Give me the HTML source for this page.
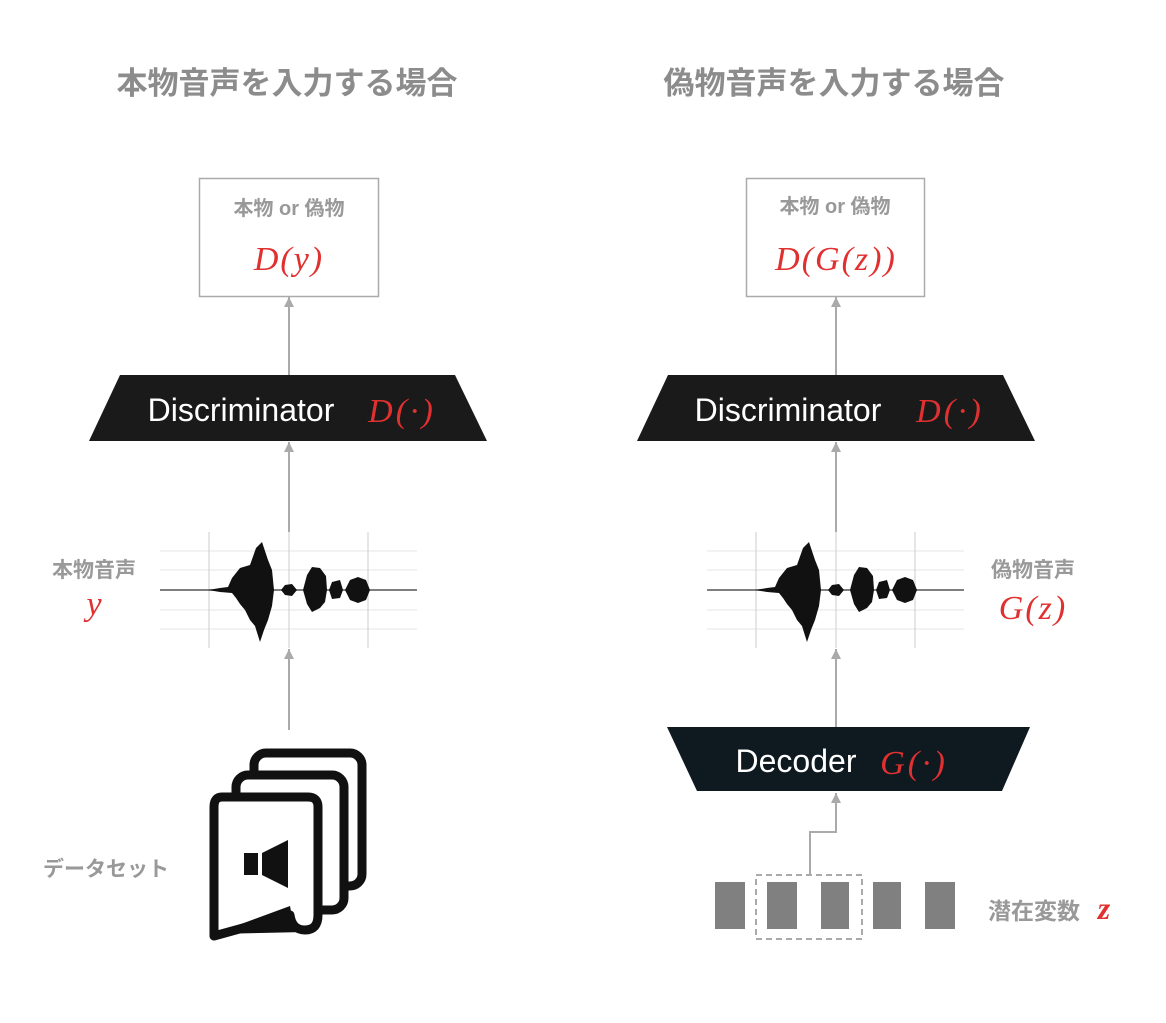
<!DOCTYPE html>
<html><head><meta charset="utf-8"><style>
body{margin:0;background:#fff;width:1166px;height:1018px;overflow:hidden;font-family:"Liberation Sans","Noto Sans CJK JP",sans-serif}
</style></head><body>
<svg width="1166" height="1018" viewBox="0 0 1166 1018" xmlns="http://www.w3.org/2000/svg" font-family="Liberation Sans, Noto Sans CJK JP, sans-serif">
<defs>
<marker id="ah" markerWidth="12" markerHeight="12" refX="10" refY="5" orient="auto" markerUnits="userSpaceOnUse"><path d="M0,0 L10,5 L0,10 Z" fill="#aaa"/></marker>
<g id="wave">
<g stroke="#e6e6e6" stroke-width="1"><line x1="0" y1="-39" x2="257" y2="-39"/><line x1="0" y1="-20" x2="257" y2="-20"/><line x1="0" y1="20" x2="257" y2="20"/><line x1="0" y1="39" x2="257" y2="39"/></g>
<g stroke="#ccc" stroke-width="1"><line x1="49" y1="-58" x2="49" y2="58"/><line x1="129" y1="-58" x2="129" y2="58"/><line x1="208" y1="-58" x2="208" y2="58"/></g>
<line x1="0" y1="0" x2="257" y2="0" stroke="#555" stroke-width="1.5"/>
<path fill="#111" d="M48,0 L60,-2 L68,-3 L72,-12 L80,-22 L90,-25 L96,-42 L102,-48 L108,-30 L112,-20 L114,0 L112,16 L108,30 L104,40 L100,52 L95,36 L90,30 L85,20 L80,14 L76,8 L72,3 L60,2 Z"/>
<path fill="#111" d="M121,0 L125,-5 L132,-6 L137,0 L132,6 L125,5 Z"/>
<path fill="#111" d="M143,0 L147,-15 L152,-23 L160,-22 L166,-14 L167,0 L165,12 L160,18 L152,22 L147,14 Z"/>
<path fill="#111" d="M169,0 L172,-8 L180,-10 L183,0 L180,8 L172,9 Z"/>
<path fill="#111" d="M185,0 L190,-10 L198,-13 L206,-10 L210,0 L206,10 L198,13 L190,10 Z"/>
</g>
<g id="trap"><path d="M31,0 L366,0 L398,66 L0,66 Z"/></g>
</defs>

<text x="287" y="94" text-anchor="middle" font-size="31" font-weight="bold" fill="#8c8c8c">本物音声を入力する場合</text>
<text x="834" y="94" text-anchor="middle" font-size="31" font-weight="bold" fill="#8c8c8c">偽物音声を入力する場合</text>

<!-- left -->
<rect x="199.5" y="178.5" width="179" height="118" fill="#fff" stroke="#aaa" stroke-width="1.5"/>
<text x="289" y="215" text-anchor="middle" font-size="20" font-weight="bold" fill="#999">本物 or 偽物</text>
<text x="289" y="270" text-anchor="middle" font-size="34" font-style="italic" fill="#e03030" font-family="Liberation Serif, serif" letter-spacing="2">D(y)</text>
<line x1="289" y1="375" x2="289" y2="297" stroke="#aaa" stroke-width="2" marker-end="url(#ah)"/>
<use href="#trap" x="89" y="375" fill="#1a1a1a"/>
<text x="241" y="421" text-anchor="middle" font-size="32" fill="#fff">Discriminator</text>
<text x="402" y="422" text-anchor="middle" font-size="34" font-style="italic" fill="#e03030" font-family="Liberation Serif, serif" letter-spacing="3">D(·)</text>
<line x1="289" y1="532" x2="289" y2="442" stroke="#aaa" stroke-width="2" marker-end="url(#ah)"/>
<use href="#wave" x="160" y="590"/>
<text x="94" y="577" text-anchor="middle" font-size="21" font-weight="bold" fill="#999">本物音声</text>
<text x="94" y="615" text-anchor="middle" font-size="34" font-style="italic" fill="#e03030" font-family="Liberation Serif, serif">y</text>
<line x1="289" y1="730" x2="289" y2="649" stroke="#aaa" stroke-width="2" marker-end="url(#ah)"/>
<text x="106" y="876" text-anchor="middle" font-size="21" font-weight="bold" fill="#999">データセット</text>
<g fill="#fff" stroke="#111" stroke-width="9" stroke-linejoin="round">
<rect x="254" y="753" width="108" height="133" rx="12"/>
<rect x="236" y="775" width="108" height="135" rx="12"/>
<path d="M222,797 L308,797 Q318,797 318,807 L318,915 Q318,930 305,930 Q292,930 290,915 L214,936 L214,807 Q214,797 222,797 Z"/>
</g>
<path d="M214,934 L290,906 Q293,925 305,932 Z" fill="#111"/>
<rect x="244" y="853" width="14" height="22" fill="#111"/>
<path d="M262,853 L288,840 L288,888 L262,875 Z" fill="#111"/>

<!-- right -->
<rect x="746.5" y="178.5" width="178" height="118" fill="#fff" stroke="#aaa" stroke-width="1.5"/>
<text x="835" y="213" text-anchor="middle" font-size="20" font-weight="bold" fill="#999">本物 or 偽物</text>
<text x="836" y="270" text-anchor="middle" font-size="34" font-style="italic" fill="#e03030" font-family="Liberation Serif, serif" letter-spacing="2">D(G(z))</text>
<line x1="836" y1="375" x2="836" y2="297" stroke="#aaa" stroke-width="2" marker-end="url(#ah)"/>
<use href="#trap" x="637" y="375" fill="#1a1a1a"/>
<text x="788" y="421" text-anchor="middle" font-size="32" fill="#fff">Discriminator</text>
<text x="950" y="422" text-anchor="middle" font-size="34" font-style="italic" fill="#e03030" font-family="Liberation Serif, serif" letter-spacing="3">D(·)</text>
<line x1="836" y1="532" x2="836" y2="442" stroke="#aaa" stroke-width="2" marker-end="url(#ah)"/>
<use href="#wave" x="707" y="590"/>
<text x="1033" y="577" text-anchor="middle" font-size="21" font-weight="bold" fill="#999">偽物音声</text>
<text x="1033" y="619" text-anchor="middle" font-size="34" font-style="italic" fill="#e03030" font-family="Liberation Serif, serif" letter-spacing="2">G(z)</text>
<line x1="836" y1="727" x2="836" y2="649" stroke="#aaa" stroke-width="2" marker-end="url(#ah)"/>
<path d="M667,727 L1030,727 L1002,791 L697,791 Z" fill="#0f1a20"/>
<text x="796" y="772" text-anchor="middle" font-size="32" fill="#fff">Decoder</text>
<text x="914" y="774" text-anchor="middle" font-size="34" font-style="italic" fill="#e03030" font-family="Liberation Serif, serif" letter-spacing="3">G(·)</text>
<path d="M810,874 L810,832 L836,832 L836,793" fill="none" stroke="#aaa" stroke-width="2" marker-end="url(#ah)"/>
<g fill="#808080">
<rect x="715" y="882" width="30" height="47"/>
<rect x="767" y="882" width="30" height="47"/>
<rect x="821" y="882" width="28" height="47"/>
<rect x="873" y="882" width="28" height="47"/>
<rect x="925" y="882" width="30" height="47"/>
</g>
<rect x="756" y="875" width="106" height="64" fill="none" stroke="#aaa" stroke-width="2" stroke-dasharray="6,4"/>
<text x="1034" y="919" text-anchor="middle" font-size="23" font-weight="bold" fill="#999">潜在変数</text>
<text x="1104" y="919" text-anchor="middle" font-size="32" font-weight="bold" font-style="italic" fill="#e03030" font-family="Liberation Serif, serif">z</text>
</svg>
</body></html>
